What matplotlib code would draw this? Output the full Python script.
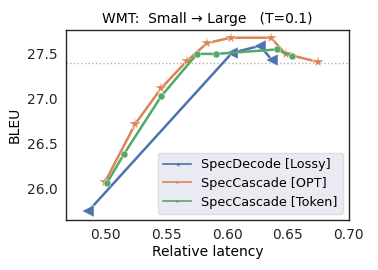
import matplotlib
matplotlib.use('Agg')
import matplotlib.pyplot as plt

# data
lossy_x = [0.486, 0.604, 0.627, 0.637]
lossy_y = [25.74, 27.50, 27.58, 27.42]

opt_x = [0.500, 0.5246, 0.546, 0.567, 0.5836, 0.603, 0.636, 0.648, 0.675]
opt_y = [26.07, 26.71, 27.11, 27.41, 27.61, 27.67, 27.67, 27.49, 27.40]

token_x = [0.5016, 0.5156, 0.546, 0.5754, 0.591, 0.641, 0.653]
token_y = [26.06, 26.38, 27.02, 27.49, 27.49, 27.54, 27.47]

large_bleu = 27.39

blue, orange, green = '#4C72B0', '#DD8452', '#55A868'

fig = plt.figure(figsize=(3.78, 2.7), dpi=100)
ax = fig.add_axes([0.175, 0.185, 0.748, 0.704])

ax.axhline(large_bleu, color='#b0b0b0', linestyle=':', linewidth=1, zorder=1)

ax.plot(lossy_x, lossy_y, color=blue, marker='<', markersize=8, linewidth=1.8,
        markeredgecolor='white', markeredgewidth=0.3,
        label='SpecDecode [Lossy]', zorder=2)
ax.plot(opt_x, opt_y, color=orange, marker='*', markersize=8.5, linewidth=1.8,
        markeredgecolor='white', markeredgewidth=0.3,
        label='SpecCascade [OPT]', zorder=3)
ax.plot(token_x, token_y, color=green, marker='o', markersize=5, linewidth=1.8,
        markeredgecolor='white', markeredgewidth=0.3,
        label='SpecCascade [Token]', zorder=3)

ax.set_xlim(0.468, 0.70)
ax.set_ylim(25.644, 27.756)
ax.set_xticks([0.50, 0.55, 0.60, 0.65, 0.70])
ax.set_yticks([26.0, 26.5, 27.0, 27.5])

ax.set_title('WMT:  Small \u2192 Large   (T=0.1)', fontsize=10, pad=5)
ax.set_xlabel('Relative latency', fontsize=10, labelpad=2)
ax.set_ylabel('BLEU', fontsize=10)
ax.tick_params(labelsize=10, length=0, pad=6, colors='#262626')

for s in ax.spines.values():
    s.set_color('#262626')
    s.set_linewidth(1)

leg = ax.legend(loc='lower right', fontsize=9.2, markerscale=0.35,
                facecolor='#EAEAF2', edgecolor='#dddddd', framealpha=1,
                handlelength=2.2, labelspacing=0.45)
for h in leg.legend_handles:
    h.set_linewidth(1.2)
    h.set_markeredgewidth(0)

plt.savefig('out.png', dpi=100)
